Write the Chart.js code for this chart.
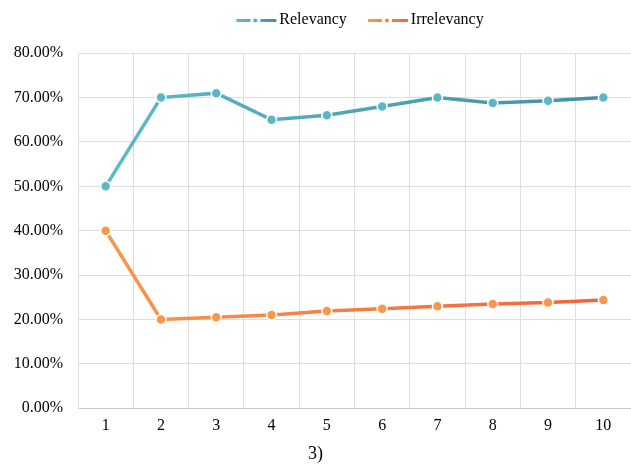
<!DOCTYPE html>
<html lang="en">
<head>
  <meta charset="UTF-8">
  <title>Relevancy vs Irrelevancy</title>
  <script src="https://cdn.jsdelivr.net/npm/chart.js"></script>
  <style>
    * { margin: 0; padding: 0; box-sizing: border-box; }
    body { background: #fff; overflow: hidden; }
    #chart-container { width: 631px; height: 469px; }
  </style>
</head>
<body>
  <div id="chart-container">
    <canvas id="chart"></canvas>
  </div>

  <script>
    // Chart data
    const categories = ['1', '2', '3', '4', '5', '6', '7', '8', '9', '10'];
    const relevancy = [50, 70, 71, 65, 66, 68, 70, 68.8, 69.3, 70];
    const irrelevancy = [40, 20, 20.5, 21, 21.9, 22.4, 23, 23.5, 23.8, 24.4];
    const seriesNames = ['Relevancy', 'Irrelevancy'];
    const yMax = 80;
    const yStep = 10;

    const serif = "'Liberation Serif', 'Times New Roman', serif";

    // legend marker: dash - dot - dash, like the Excel one
    function legendMarker(c1, c2) {
      const cv = document.createElement('canvas');
      cv.width = 64; cv.height = 6;
      const g = cv.getContext('2d');
      const grad = g.createLinearGradient(20, 0, 64, 0);
      grad.addColorStop(0, c1);
      grad.addColorStop(1, c2);
      g.fillStyle = grad;
      g.fillRect(20, 2, 14, 3);
      g.beginPath();
      g.arc(39, 3.5, 2, 0, Math.PI * 2);
      g.fill();
      g.fillRect(44, 2, 16, 3);
      return cv;
    }

    function lineGradient(c1, c2) {
      return function(context) {
        const chart = context.chart;
        const area = chart.chartArea;
        if (!area) return c1;
        const grad = chart.ctx.createLinearGradient(area.left, 0, area.right, 0);
        grad.addColorStop(0, c1);
        grad.addColorStop(1, c2);
        return grad;
      };
    }

    const ctx = document.getElementById('chart').getContext('2d');
    new Chart(ctx, {
      type: 'line',
      data: {
        labels: categories,
        datasets: [{
          label: seriesNames[0],
          data: relevancy,
          borderColor: lineGradient('#5fbccb', '#3f8ea6'),
          borderWidth: 3.5,
          pointBackgroundColor: '#5bb7c7',
          pointBorderColor: '#ffffff',
          pointBorderWidth: 1.5,
          pointRadius: 5,
          tension: 0,
          pointStyle: 'circle',
          legendImage: legendMarker('#5fbccb', '#3f8ea6')
        }, {
          label: seriesNames[1],
          data: irrelevancy,
          borderColor: lineGradient('#f89a4e', '#f2603a'),
          borderWidth: 3.5,
          pointBackgroundColor: '#f7984d',
          pointBorderColor: '#ffffff',
          pointBorderWidth: 1.5,
          pointRadius: 5,
          tension: 0,
          legendImage: legendMarker('#f89a4e', '#f2603a')
        }]
      },
      options: {
        responsive: true,
        maintainAspectRatio: false,
        animation: false,
        layout: { autoPadding: false, padding: { top: 2, right: 0, left: 0, bottom: 0 } },
        plugins: {
          legend: {
            position: 'top',
            fullSize: false,
            labels: {
              usePointStyle: true,
              pointStyleWidth: 46,
              padding: 10,
              color: '#000',
              font: { family: serif, size: 16 },
              generateLabels: function(chart) {
                return chart.data.datasets.map((ds, i) => ({
                  text: ds.label,
                  pointStyle: ds.legendImage,
                  fontColor: '#000',
                  hidden: false,
                  lineWidth: 0,
                  datasetIndex: i
                }));
              }
            }
          },
          // empty spacer between legend and plot
          subtitle: {
            display: true,
            position: 'top',
            weight: 500,
            text: '',
            font: { size: 1 },
            padding: { top: 0, bottom: 14 }
          },
          title: {
            display: true,
            position: 'bottom',
            text: '3)',
            color: '#000',
            font: { family: serif, size: 18, weight: 'normal' },
            padding: { top: 0, bottom: 4 }
          },
          tooltip: { enabled: false }
        },
        scales: {
          x: {
            offset: true,
            grid: { offset: true, color: '#dedede', drawTicks: false },
            border: { color: '#c8c8c8' },
            ticks: {
              color: '#000',
              padding: 8,
              font: { family: serif, size: 16 }
            }
          },
          y: {
            min: 0,
            max: yMax,
            grid: { color: '#dedede', drawTicks: false },
            border: { color: '#dedede' },
            ticks: {
              stepSize: yStep,
              color: '#000',
              padding: 15,
              font: { family: serif, size: 16 },
              callback: v => v.toFixed(2) + '%'
            },
            afterFit: scale => { scale.width = 78; }
          }
        }
      }
    });
  </script>
</body>
</html>
